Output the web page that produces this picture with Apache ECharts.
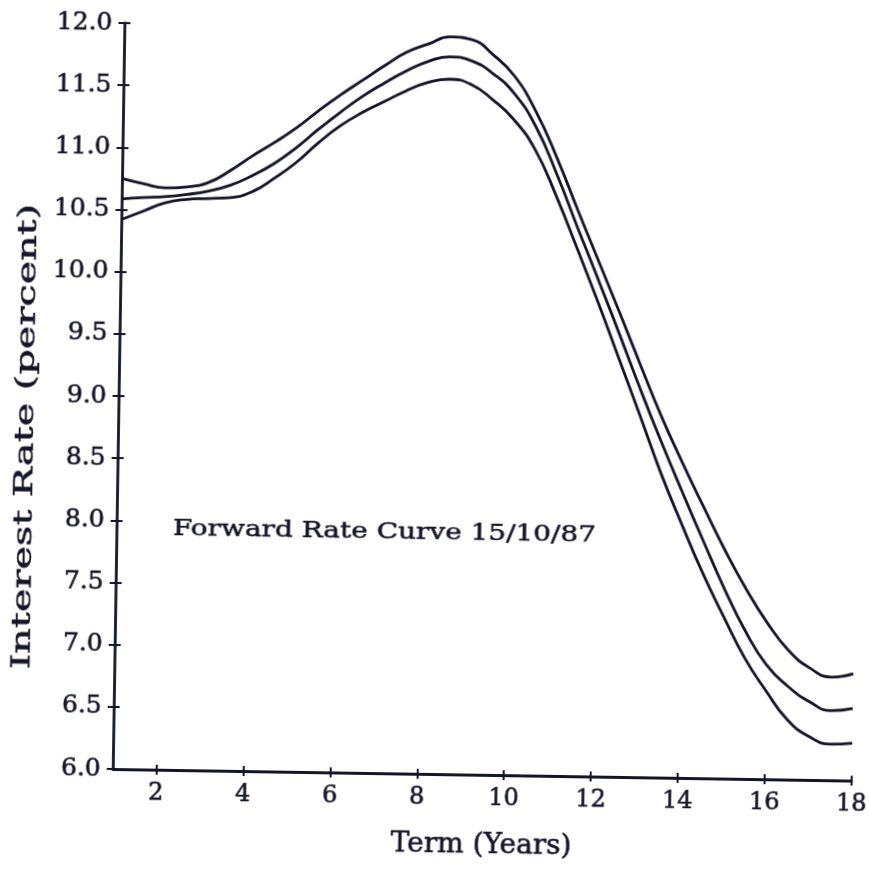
<!DOCTYPE html>
<html>
<head>
<meta charset="utf-8">
<script src="https://cdn.jsdelivr.net/npm/echarts@6/dist/echarts.min.js"></script>
<style>
html,body{margin:0;padding:0;background:#ffffff;overflow:hidden;width:869px;height:870px;}
#chart{width:900px;height:870px;transform:rotate(0.9deg);transform-origin:434.5px 435px;}
</style>
</head>
<body>
<div id="chart"></div>
<script>
// ---- data ----
const terms = [1,1.5,2,2.5,3,3.5,4,4.5,5,5.5,6,6.5,7,7.5,8,8.5,9,9.5,10,10.5,11,11.5,12,12.5,13,13.5,14,14.5,15,15.5,16,16.5,17,17.5,18];
const upperRate  = [10.75,10.71,10.68,10.69,10.73,10.83,10.95,11.06,11.18,11.32,11.45,11.57,11.69,11.80,11.87,11.93,11.91,11.79,11.62,11.34,10.97,10.55,10.14,9.73,9.31,8.90,8.53,8.18,7.84,7.53,7.26,7.04,6.90,6.83,6.86];
const middleRate = [10.585,10.60,10.61,10.63,10.66,10.71,10.79,10.89,11.02,11.17,11.31,11.44,11.55,11.65,11.73,11.77,11.74,11.64,11.48,11.22,10.84,10.41,9.99,9.56,9.12,8.70,8.30,7.91,7.53,7.19,6.92,6.75,6.63,6.56,6.58];
const lowerRate  = [10.42,10.49,10.56,10.59,10.60,10.61,10.66,10.77,10.90,11.06,11.20,11.31,11.40,11.49,11.56,11.59,11.55,11.43,11.27,11.03,10.66,10.24,9.81,9.36,8.91,8.45,8.04,7.65,7.30,6.97,6.71,6.48,6.35,6.29,6.30];
const xTickValues = [2,4,6,8,10,12,14,16,18];
const xRange = [1, 18];
const yRange = [6, 12];
const yStep = 0.5;
const xTitle = 'Term (Years)';
const yTitle = 'Interest Rate (percent)';
const noteText = 'Forward Rate Curve 15/10/87';

// ---- styling ----
const INK = '#15152a';
const FONT = 'DejaVu Serif';
const heavy = {textBorderColor: INK, textBorderWidth: 0.6};

function pairs(ys){ return terms.map((t,i)=>[t, ys[i]]); }
function lineSeries(name, ys){
  return {
    name: name, type: 'line', data: pairs(ys), smooth: true, symbol: 'none',
    xAxisIndex: 0, yAxisIndex: 0,
    lineStyle: {color: INK, width: 2.8}, z: 5
  };
}

const chart = echarts.init(document.getElementById('chart'), null, {renderer: 'canvas'});
chart.setOption({
  animation: false,
  backgroundColor: '#ffffff',
  grid: {left: 118, right: 43, top: 28, bottom: 96, containLabel: false, outerBoundsMode: 'none'},
  xAxis: [
    {
      type: 'value', min: xRange[0], max: xRange[1], position: 'bottom',
      axisLine: {show: true, onZero: false, lineStyle: {color: INK, width: 2.8}},
      axisTick: {show: true, inside: false, length: 5, customValues: xTickValues, lineStyle: {color: INK, width: 2}},
      axisLabel: Object.assign({show: true, customValues: xTickValues, margin: 12, fontSize: 24, fontFamily: FONT, color: INK}, heavy),
      splitLine: {show: false},
      name: xTitle, nameLocation: 'middle', nameGap: 57,
      nameTextStyle: Object.assign({fontSize: 28, fontFamily: FONT, color: INK}, heavy)
    },
    {
      type: 'value', min: xRange[0], max: xRange[1], position: 'bottom',
      axisLine: {show: false},
      axisTick: {show: true, inside: true, length: 5, customValues: xTickValues, lineStyle: {color: INK, width: 2}},
      axisLabel: {show: false},
      splitLine: {show: false}
    }
  ],
  yAxis: [
    {
      type: 'value', min: yRange[0], max: yRange[1], interval: yStep, position: 'left',
      axisLine: {show: true, onZero: false, lineStyle: {color: INK, width: 2.8}},
      axisTick: {show: true, inside: false, length: 6, lineStyle: {color: INK, width: 2}},
      axisLabel: Object.assign({show: true, margin: 12, fontSize: 25, fontFamily: FONT, color: INK,
                  formatter: v => v.toFixed(1)}, heavy),
      splitLine: {show: false}
    },
    {
      type: 'value', min: yRange[0], max: yRange[1], interval: yStep, position: 'left',
      axisLine: {show: false},
      axisTick: {show: true, inside: true, length: 6, lineStyle: {color: INK, width: 2}},
      axisLabel: {show: false},
      splitLine: {show: false}
    }
  ],
  graphic: [
    {
      type: 'text', x: 386, y: 533, scaleX: 1.27, silent: true,
      style: {text: noteText, font: '22px "DejaVu Serif"', fill: INK, stroke: INK, lineWidth: 0.5,
              align: 'center', verticalAlign: 'middle'}
    },
    {
      type: 'text', x: 26, y: 443, rotation: Math.PI / 2, scaleX: 1.53, silent: true,
      style: {text: yTitle, font: '26px "DejaVu Serif"', fill: INK, stroke: INK, lineWidth: 0.5,
              align: 'center', verticalAlign: 'middle'}
    }
  ],
  series: [
    lineSeries('Upper', upperRate),
    lineSeries('Middle', middleRate),
    lineSeries('Lower', lowerRate)
  ]
});
</script>
</body>
</html>
